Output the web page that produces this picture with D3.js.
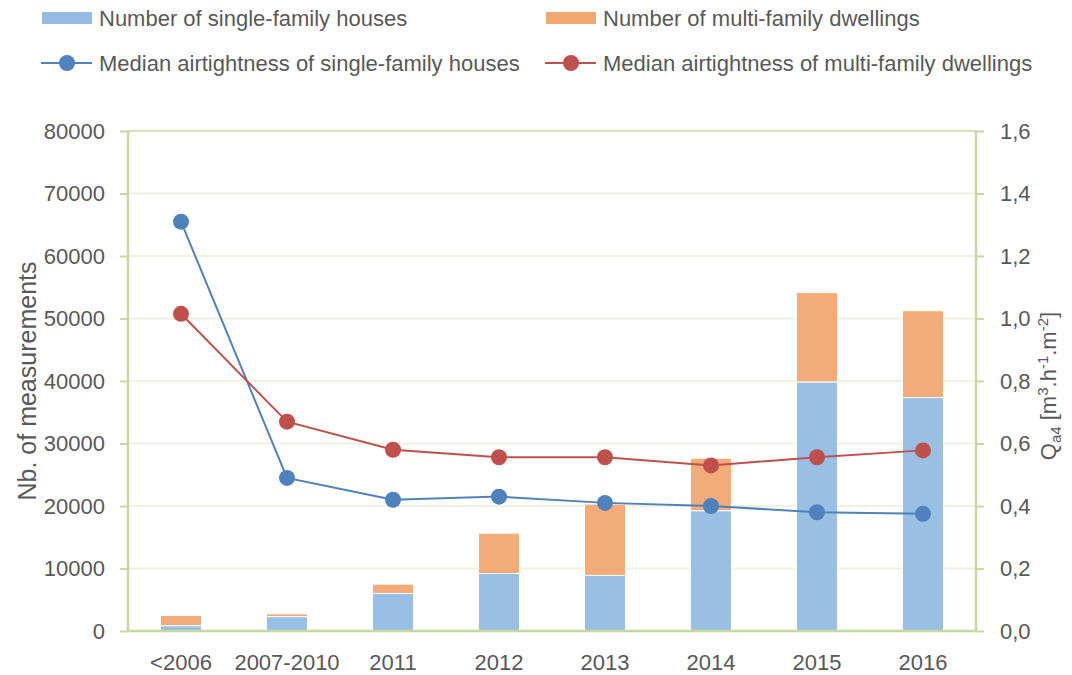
<!DOCTYPE html>
<html>
<head>
<meta charset="utf-8">
<script src="https://cdn.jsdelivr.net/npm/d3@7"></script>
<style>
  body { margin: 0; background: #fff; }
  svg text { font-family: "Liberation Sans", Arial, sans-serif; fill: #595959; }
</style>
</head>
<body>
<div id="chart"></div>
<script>
const categories = ["<2006", "2007-2010", "2011", "2012", "2013", "2014", "2015", "2016"];
const singleCount = [850, 2300, 6000, 9200, 8900, 19250, 39850, 37350];
const multiCount = [1650, 450, 1500, 6450, 11400, 8400, 14300, 13900];
const singleMedian = [1.31, 0.49, 0.42, 0.43, 0.41, 0.40, 0.38, 0.375];
const multiMedian = [1.015, 0.67, 0.58, 0.556, 0.556, 0.53, 0.556, 0.578];
const leftTicks = [0, 10000, 20000, 30000, 40000, 50000, 60000, 70000, 80000];
const rightTicks = [0, 0.2, 0.4, 0.6, 0.8, 1.0, 1.2, 1.4, 1.6];

const width = 1072;
const height = 675;
const plotLeft = 128, plotRight = 976, plotTop = 131, plotBottom = 631;

const blueBar = '#94BCE3';
const orangeBar = '#F2A872';
const blueLine = '#4F81BD';
const redLine = '#C0504D';
const axisColor = '#C6D9A0';
const gridColor = '#EDF2E1';

const svg = d3.select('#chart')
  .append('svg')
  .attr('width', width)
  .attr('height', height)

const commaLocale = d3.formatLocale({ decimal: ",", thousands: "", grouping: [3], currency: ["", ""] });

const xScale = d3.scaleBand()
  .domain(categories)
  .range([plotLeft, plotRight])

const yLeft = d3.scaleLinear()
  .domain([0, 80000])
  .range([plotBottom, plotTop])

const yRight = d3.scaleLinear()
  .domain([0, 1.6])
  .range([plotBottom, plotTop])

const barWidth = xScale.bandwidth() * 0.387;

// gridlines
svg.append('g')
  .selectAll('line')
  .data(leftTicks.slice(1))
  .enter()
  .append('line')
  .attr('x1', plotLeft)
  .attr('x2', plotRight)
  .attr('y1', d => yLeft(d))
  .attr('y2', d => yLeft(d))
  .attr('stroke', d => d === 80000 ? '#D6E3BC' : gridColor)
  .attr('stroke-width', 2)

// stacked bars
const rows = categories.map((c, i) => ({ cat: c, single: singleCount[i], multi: multiCount[i] }));
const stack = d3.stack().keys(['single', 'multi'])(rows);
const barColors = { single: blueBar, multi: orangeBar };

svg.append('g')
  .selectAll('g')
  .data(stack)
  .enter()
  .append('g')
  .attr('fill', d => barColors[d.key])
  .selectAll('rect')
  .data(d => d)
  .enter()
  .append('rect')
  .attr('x', d => xScale(d.data.cat) + xScale.bandwidth() / 2 - barWidth / 2)
  .attr('y', d => yLeft(d[1]))
  .attr('width', barWidth)
  .attr('height', d => yLeft(d[0]) - yLeft(d[1]))
  .attr('stroke', '#fff')
  .attr('stroke-width', 1)
  .attr('fill-opacity', 0.95)

// axes
const leftAxis = d3.axisLeft(yLeft)
  .tickValues(leftTicks)
  .tickFormat(d3.format('d'))
  .tickSize(8)
  .tickPadding(15)

const rightAxis = d3.axisRight(yRight)
  .tickValues(rightTicks)
  .tickFormat(commaLocale.format('.1f'))
  .tickSize(8)
  .tickPadding(16)

const bottomAxis = d3.axisBottom(xScale)
  .tickSize(0)
  .tickPadding(23)

function styleAxis(g) {
  g.select('.domain').remove();
  g.selectAll('line').attr('stroke', axisColor).attr('stroke-width', 2);
  g.selectAll('text').attr('font-size', 22).attr('fill', '#595959')
    .style('font-family', '"Liberation Sans", Arial, sans-serif');
}

svg.append('g')
  .attr('transform', `translate(${plotLeft}, 0)`)
  .call(leftAxis)
  .call(styleAxis)

svg.append('g')
  .attr('transform', `translate(${plotRight}, 0)`)
  .call(rightAxis)
  .call(styleAxis)

svg.append('g')
  .attr('transform', `translate(0, ${plotBottom})`)
  .call(bottomAxis)
  .call(styleAxis)

// axis lines
svg.append('line')
  .attr('x1', plotLeft).attr('x2', plotLeft).attr('y1', plotTop).attr('y2', plotBottom)
  .attr('stroke', axisColor).attr('stroke-width', 2.5)
svg.append('line')
  .attr('x1', plotRight).attr('x2', plotRight).attr('y1', plotTop).attr('y2', plotBottom)
  .attr('stroke', axisColor).attr('stroke-width', 2.5)
svg.append('line')
  .attr('x1', plotLeft).attr('x2', plotRight).attr('y1', plotBottom).attr('y2', plotBottom)
  .attr('stroke', axisColor).attr('stroke-width', 2.5)

// median lines
const cx = c => xScale(c) + xScale.bandwidth() / 2;
const series = [
  { values: singleMedian, color: blueLine },
  { values: multiMedian, color: redLine }
];

series.forEach(s => {
  const line = d3.line()
    .x((d, i) => cx(categories[i]))
    .y(d => yRight(d))
  svg.append('path')
    .datum(s.values)
    .attr('d', line)
    .attr('fill', 'none')
    .attr('stroke', s.color)
    .attr('stroke-width', 2)
  svg.append('g')
    .selectAll('circle')
    .data(s.values)
    .enter()
    .append('circle')
    .attr('cx', (d, i) => cx(categories[i]))
    .attr('cy', d => yRight(d))
    .attr('r', 8)
    .attr('fill', s.color)
})

// axis titles
svg.append('text')
  .attr('transform', `translate(36, ${(plotTop + plotBottom) / 2}) rotate(-90)`)
  .attr('text-anchor', 'middle')
  .attr('font-size', 25)
  .text('Nb. of measurements')

const rt = svg.append('text')
  .attr('transform', `translate(1056, ${(plotTop + plotBottom) / 2 + 5}) rotate(-90)`)
  .attr('text-anchor', 'middle')
  .attr('font-size', 22)
rt.append('tspan').text('Q')
rt.append('tspan').attr('font-size', 15).attr('dy', 5).text('a4')
rt.append('tspan').attr('dy', -5).text(' [m')
rt.append('tspan').attr('font-size', 15).attr('dy', -8).text('3')
rt.append('tspan').attr('dy', 8).text('.h')
rt.append('tspan').attr('font-size', 15).attr('dy', -8).text('-1')
rt.append('tspan').attr('dy', 8).text('.m')
rt.append('tspan').attr('font-size', 15).attr('dy', -8).text('-2')
rt.append('tspan').attr('dy', 8).text(']')

// legend
const legend = svg.append('g')
const legendItems = [
  { label: 'Number of single-family houses', color: blueBar, type: 'bar', x: 42, y: 18 },
  { label: 'Number of multi-family dwellings', color: orangeBar, type: 'bar', x: 546, y: 18 },
  { label: 'Median airtightness of single-family houses', color: blueLine, type: 'line', x: 42, y: 63 },
  { label: 'Median airtightness of multi-family dwellings', color: redLine, type: 'line', x: 546, y: 63 }
];

legendItems.forEach(item => {
  if (item.type === 'bar') {
    legend.append('rect')
      .attr('x', item.x).attr('y', item.y - 6)
      .attr('width', 50).attr('height', 12)
      .attr('fill', item.color)
  } else {
    legend.append('line')
      .attr('x1', item.x - 1).attr('x2', item.x + 50)
      .attr('y1', item.y).attr('y2', item.y)
      .attr('stroke', item.color).attr('stroke-width', 2)
    legend.append('circle')
      .attr('cx', item.x + 25).attr('cy', item.y)
      .attr('r', 8).attr('fill', item.color)
  }
  legend.append('text')
    .attr('x', item.x + 57)
    .attr('y', item.y)
    .attr('dy', '0.36em')
    .attr('font-size', 22)
    .text(item.label)
})
</script>
</body>
</html>
